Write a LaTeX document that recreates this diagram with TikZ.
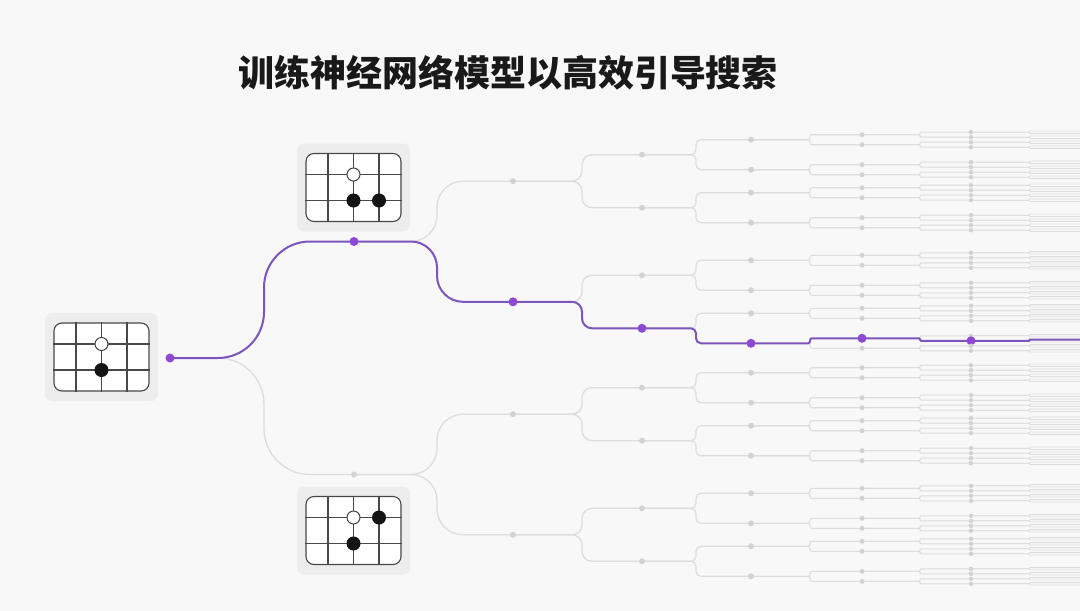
\documentclass[tikz,border=0pt]{standalone}
\usepackage{fontspec}
\newfontfamily\cjk{Noto Sans CJK SC}
\usetikzlibrary{calc,positioning}
\definecolor{bg}{RGB}{248,248,248}
\definecolor{shade}{RGB}{237,237,237}
\definecolor{wire}{RGB}{221,221,221}
\definecolor{knot}{RGB}{210,210,210}
\definecolor{trail}{RGB}{124,86,188}
\definecolor{lit}{RGB}{142,72,214}
\definecolor{ink}{RGB}{72,72,72}
\tikzset{
  offdot/.style={circle,fill=knot,inner sep=0pt,minimum size=6pt},
  ondot/.style={circle,fill=lit,inner sep=0pt,minimum size=9pt},
  branch/.style={draw=wire,line width=1.3pt},
  chosen/.style={draw=trail,line width=2pt},
  shadebox/.style={rectangle,rounded corners=7pt,fill=shade,minimum width=113pt,minimum height=88pt},
  boardbox/.style={rectangle,rounded corners=8pt,fill=white,draw=ink,line width=1.1pt,minimum width=95pt,minimum height=68pt},
  gridline/.style={draw=ink,line width=1.1pt},
  wstone/.style={circle,fill=white,draw=ink,line width=1pt,inner sep=0pt,minimum size=13pt},
  bstone/.style={circle,fill=black!92,inner sep=0pt,minimum size=14pt},
  title/.style={text=black!90,font={\cjk\bfseries\fontsize{36pt}{40pt}\selectfont}}
}

\begin{document}
\begin{tikzpicture}[x=1pt,y=-1pt]
\fill[bg] (0,0) rectangle (1080,611);
\useasboundingbox (0,0) rectangle (1080,611);
% \draw[style=help lines,gray!50] (0,0) grid[step=50pt] (1080,611);
\node[title] (title) at (508,73) {训练神经网络模型以高效引导搜索};
\def\goboard#1#2#3#4{
\node[shadebox] (#1-bg) at (#2) {};
\node[boardbox] (#1) at (#2) {};
\foreach \gx in {-25.5,0,25.5}
  \draw[gridline] ([xshift=\gx pt]#1.north) -- ([xshift=\gx pt]#1.south);
\foreach \gy in {-13,13}
  \draw[gridline] ([yshift=\gy pt]#1.west) -- ([yshift=\gy pt]#1.east);
\foreach \sx/\sy [count=\k] in {#3}
  \node[wstone] (#1-w\k) at ($(#1)+(\sx*25.5,\sy*13)$) {};
\foreach \sx/\sy [count=\k] in {#4}
  \node[bstone] (#1-b\k) at ($(#1)+(\sx*25.5,\sy*13)$) {};
}
\goboard{rootboard}{101.5,357}{0/-1}{0/1}
\goboard{upboard}{353.5,187.5}{0/-1}{0/1,1/1}
\goboard{downboard}{353.5,530.5}{0/-1}{1/-1,0/1}
% level / step / spread / bend / gap / chosen / dot / width
\def\levels{1/184/116.5/46/44/0/6/1.3, 2/159/60.3/26/50/1/6/1.3, 3/129/26.5/10/50/3/6/1.3,
  4/109/15/5/50/7/6/1.2, 5/111/5/2/50/14/5/1.1, 6/109/2.5/1/50/29/4.5/1, 7/109/1.2/0.5/50/58/0/0.8}
\coordinate (n-0-0) at (170,358);
\foreach \L/\dx/\d/\r/\g/\sel/\sz/\lw in \levels {
  \pgfmathtruncatemacro\pl{\L-1}
  \pgfmathtruncatemacro\last{2^\L-1}
  \foreach \i in {0,...,\last}{
    \pgfmathtruncatemacro\up{floor(\i/2)}
    \pgfmathtruncatemacro\sg{2*mod(\i,2)-1}
    \coordinate (n-\L-\i) at ($(n-\pl-\up)+(\dx,\sg*\d)$);
  }
}
% grey tree
\foreach \L/\dx/\d/\r/\g/\sel/\sz/\lw in \levels {
  \pgfmathtruncatemacro\pl{\L-1}
  \pgfmathtruncatemacro\last{2^\L-1}
  \foreach \i in {0,...,\last}{
    \pgfmathtruncatemacro\up{floor(\i/2)}
    \draw[branch,line width=\lw pt,rounded corners=\r pt] (n-\pl-\up)
      -| ($(n-\L-\i)+(-\g-\r,0)$) -- (n-\L-\i);
  }
}
% chosen line
\foreach \L/\dx/\d/\r/\g/\sel/\sz/\lw in \levels {
  \pgfmathtruncatemacro\pl{\L-1}
  \pgfmathtruncatemacro\up{floor(\sel/2)}
  \draw[chosen,rounded corners=\r pt] (n-\pl-\up)
    -| ($(n-\L-\sel)+(-\g-\r,0)$) -- (n-\L-\sel);
}
% dots
\node[ondot] (d-0-0) at (n-0-0) {};
\foreach \L/\dx/\d/\r/\g/\sel/\sz/\lw in \levels {
  \ifnum\L<7
    \pgfmathtruncatemacro\last{2^\L-1}
    \foreach \i in {0,...,\last}{
      \ifnum\i=\sel\relax
        \node[ondot] (d-\L-\i) at (n-\L-\i) {};
      \else
        \node[offdot,minimum size=\sz pt] (d-\L-\i) at (n-\L-\i) {};
      \fi
    }
  \fi
}
\end{tikzpicture}
\end{document}
